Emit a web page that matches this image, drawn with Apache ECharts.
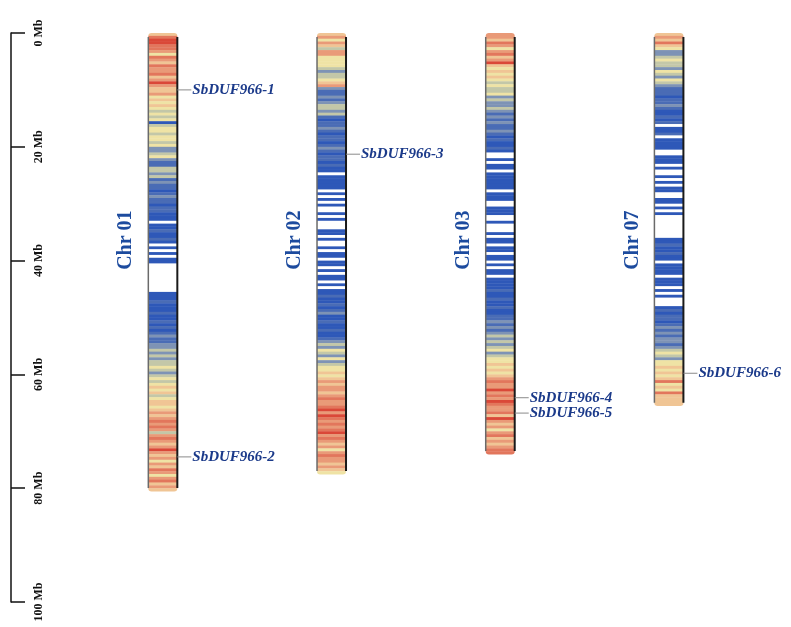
<!DOCTYPE html>
<html>
<head>
<meta charset="utf-8">
<script src="https://cdn.jsdelivr.net/npm/echarts@6/dist/echarts.min.js"></script>
<style>
html,body{margin:0;padding:0;background:#fff;}
#chart{width:791px;height:627px;}
</style>
</head>
<body>
<div id="chart"></div>
<script>
// 染色体信息
const chrNames = ['Chr 01', 'Chr 02', 'Chr 03', 'Chr 07'];
const chrLen = [80.5, 77.5, 74, 65.5];   // Mb
const BIN = 0.5;                          // 每个密度条 0.5 Mb

// 基因密度 (0 = 无, 1 蓝 ... 9 红)
const dens01 = [
  6,8,9,9,8,8,7,5,8,7, 6,8,7,7,8,6,7,9,7,6, 6,7,5,6,5,6,5,4,5,4, 5,1,4,5,5,4,5,5,4,5,
  3,3,4,5,3,2,2,4,4,3, 4,2,3,2,2,1,2,3,2,2, 1,2,2,1,1,1,0,1,1,2, 1,1,2,1,0,1,0,1,0,1,
  1,0,0,0,0,0,0,0,0,0, 0,1,1,1,2,1,1,1,2,1, 1,2,1,2,1,2,3,2,2,3, 3,4,3,4,3,4,4,5,4,3,
  4,5,4,5,6,5,6,4,5,6, 6,5,6,7,6,7,8,7,8,7, 4,7,8,7,6,7,9,7,6,7, 5,7,6,8,7,5,7,8,6,7,
  6
];
const dens02 = [
  6,7,5,7,6,4,7,7,5,5, 5,5,4,3,4,4,5,6,7,3, 2,2,3,2,3,4,4,3,4,2, 1,2,2,3,2,1,2,2,1,2,
  3,2,1,2,2,1,2,1,1,0, 1,1,1,1,1,0,1,0,1,0, 1,0,0,1,0,1,0,0,0,1, 1,0,1,0,0,1,0,1,1,0,
  1,1,0,1,0,1,1,0,1,0, 1,1,2,1,1,2,1,2,3,1, 1,2,1,1,2,1,1,2,3,4, 3,5,4,3,5,3,4,5,5,6,
  5,6,7,6,7,7,6,7,8,7, 7,8,9,7,9,8,7,8,7,8, 9,7,8,7,6,7,5,7,8,7, 7,6,7,6,5
];
const dens03 = [
  7,7,6,8,7,5,7,8,6,7, 9,6,5,6,5,6,5,4,5,4, 4,5,3,4,3,3,4,3,2,3, 2,3,2,2,3,2,1,2,1,1,
  2,1,0,0,1,0,1,1,0,1, 1,1,1,1,1,0,1,1,1,0, 0,1,1,1,0,0,1,0,0,0, 1,0,1,1,0,1,1,0,1,1,
  0,1,0,1,1,0,1,1,1,1, 2,1,1,2,1,1,2,1,1,2, 2,3,2,3,2,3,4,3,4,3, 4,5,3,4,5,5,6,5,6,5,
  6,7,8,7,7,9,7,8,7,9, 8,7,7,8,6,9,7,6,7,5, 7,8,6,7,6,7,8,8
];
const dens07 = [
  6,7,6,8,6,5,3,3,4,5, 4,4,3,5,4,3,5,4,3,2, 2,2,1,2,2,3,2,1,1,2, 1,2,0,1,1,2,0,1,1,1,
  1,0,0,1,1,1,0,1,0,0, 1,0,1,0,1,1,0,0,1,1, 0,1,0,1,0,0,0,0,0,0, 0,0,1,1,2,1,1,2,1,1,
  0,1,1,1,1,0,1,1,1,0, 1,0,1,0,0,0,1,2,1,2, 2,1,2,3,2,3,2,3,3,2, 3,4,5,4,3,5,5,6,5,6,
  5,6,8,5,6,5,8,6,6,6, 6
];

// 基因位置
const geneNames = ['SbDUF966-1', 'SbDUF966-2', 'SbDUF966-3', 'SbDUF966-4', 'SbDUF966-5', 'SbDUF966-6'];
const geneChr = [0, 0, 1, 2, 2, 3];
const genePos = [10.0, 74.5, 21.3, 64.1, 66.8, 59.8];

// 样式
const CHR_W = 29;
const LABEL_MB = 36.4;
const palette = ['#ffffff', '#2e58b8', '#4a6cb5', '#7e93b5', '#c3c7a8', '#efe3a5', '#f0c595', '#e99a78', '#e2765c', '#da4838'];

let binData = [];
[dens01, dens02, dens03, dens07].forEach(function (arr, i) {
    arr.forEach(function (v, k) {
        binData.push([i, k * BIN, Math.min((k + 1) * BIN, chrLen[i]), v]);
    });
});
let chrData = chrLen.map(function (len, i) { return [i, len]; });
let geneData = genePos.map(function (p, i) { return [geneChr[i], p]; });

let chart = echarts.init(document.getElementById('chart'));

let option = {
    animation: false,
    backgroundColor: '#fff',
    grid: { left: 11, right: 4, top: 33, bottom: 25 },
    xAxis: { type: 'value', min: -0.9, max: 3.7, show: false },
    yAxis: {
        type: 'value',
        inverse: true,
        min: 0,
        max: 100,
        interval: 20,
        axisLine: { show: true, onZero: false, lineStyle: { color: '#111', width: 1.5 } },
        axisTick: { show: true, inside: true, length: 14, lineStyle: { color: '#111', width: 1.5 } },
        splitLine: { show: false },
        axisLabel: {
            inside: true,
            rotate: 90,
            margin: 22,
            align: 'center',
            verticalAlign: 'top',
            showMinLabel: true,
            showMaxLabel: true,
            formatter: '{value} Mb',
            color: '#111',
            fontFamily: 'Liberation Serif',
            fontWeight: 'bold',
            fontSize: 12
        }
    },
    visualMap: {
        type: 'piecewise',
        show: false,
        seriesIndex: 0,
        dimension: 3,
        pieces: palette.map(function (c, v) { return { value: v, color: c }; })
    },
    series: [
        {
            // 密度条
            type: 'custom',
            clip: false,
            z: 1,
            data: binData,
            renderItem: function (params, api) {
                let idx = api.value(0);
                let s = api.value(1), e = api.value(2);
                let top = api.coord([idx, s]);
                let bot = api.coord([idx, e]);
                let r = 0;
                if (s === 0) r = [5, 5, 0, 0];
                else if (e >= chrLen[idx]) r = [0, 0, 5, 5];
                return {
                    type: 'rect',
                    shape: { x: top[0] - CHR_W / 2, y: top[1], width: CHR_W, height: bot[1] - top[1] + 0.4, r: r },
                    style: { fill: api.visual('color') }
                };
            }
        },
        {
            // 染色体边框和名称
            type: 'custom',
            clip: false,
            z: 2,
            data: chrData,
            renderItem: function (params, api) {
                let idx = api.value(0);
                let top = api.coord([idx, 0]);
                let bot = api.coord([idx, api.value(1)]);
                let lbl = api.coord([idx, LABEL_MB]);
                let xl = top[0] - CHR_W / 2, xr = top[0] + CHR_W / 2;
                return {
                    type: 'group',
                    children: [
                        { type: 'line', shape: { x1: xl, y1: top[1] + 4, x2: xl, y2: bot[1] - 3 }, style: { stroke: '#6a6a6a', lineWidth: 1.5 } },
                        { type: 'line', shape: { x1: xr, y1: top[1] + 4, x2: xr, y2: bot[1] - 3 }, style: { stroke: '#1a1a1a', lineWidth: 2 } },
                        {
                            type: 'text', x: xl - 22, y: lbl[1], rotation: Math.PI / 2,
                            style: {
                                text: chrNames[idx], fill: '#1d4b9e',
                                font: 'bold 20px "Liberation Serif"',
                                align: 'center', verticalAlign: 'middle'
                            }
                        }
                    ]
                };
            }
        },
        {
            // 基因标注
            type: 'custom',
            clip: false,
            z: 3,
            data: geneData,
            renderItem: function (params, api) {
                let p = api.coord([api.value(0), api.value(1)]);
                let x0 = p[0] + CHR_W / 2;
                return {
                    type: 'group',
                    children: [
                        { type: 'line', shape: { x1: x0, y1: p[1], x2: x0 + 14, y2: p[1] }, style: { stroke: '#8a8a8a', lineWidth: 1 } },
                        {
                            type: 'text', x: x0 + 15, y: p[1],
                            style: {
                                text: geneNames[params.dataIndex], fill: '#1b3a8a',
                                font: 'italic bold 15px "Liberation Serif"',
                                align: 'left', verticalAlign: 'middle'
                            }
                        }
                    ]
                };
            }
        }
    ]
};

chart.setOption(option);
</script>
</body>
</html>
